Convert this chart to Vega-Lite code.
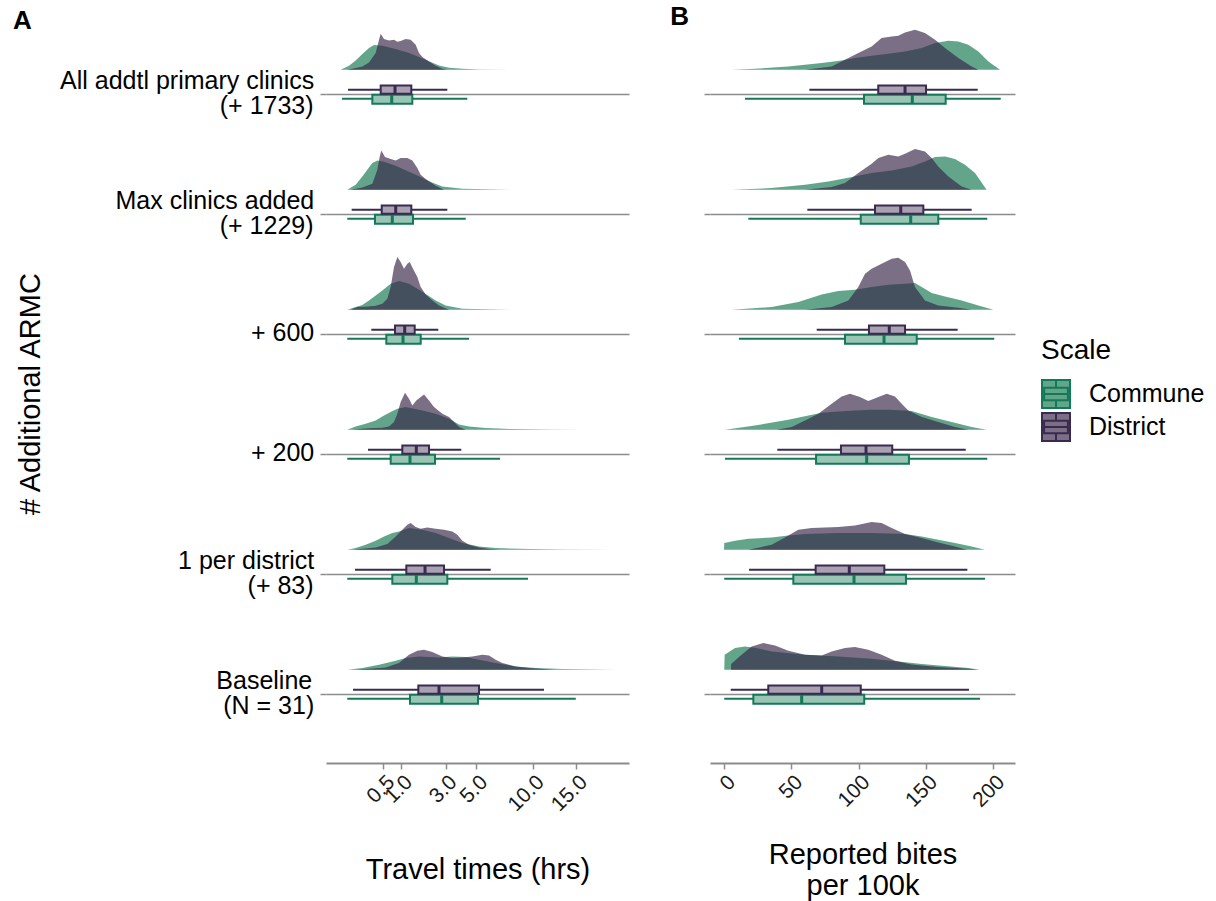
{
"$schema": "https://vega.github.io/schema/vega-lite/v6.json",
"padding": {"left": 13, "top": 3, "right": 5, "bottom": 5},
"datasets": {"all": [
{"k":"b","p":"A","r":"All addtl primary clinics (+ 1733)","s":"District","lo":0.017,"q1":0.444,"med":0.813,"q3":1.367,"hi":3.098},
{"k":"b","p":"A","r":"All addtl primary clinics (+ 1733)","s":"Commune","lo":0.001,"q1":0.28,"med":0.718,"q3":1.406,"hi":4.363},
{"k":"b","p":"A","r":"Max clinics added (+ 1229)","s":"District","lo":0.036,"q1":0.467,"med":0.834,"q3":1.367,"hi":3.098},
{"k":"b","p":"A","r":"Max clinics added (+ 1229)","s":"Commune","lo":0.014,"q1":0.328,"med":0.735,"q3":1.433,"hi":4.254},
{"k":"b","p":"A","r":"+ 600","s":"District","lo":0.263,"q1":0.813,"med":1.125,"q3":1.5,"hi":2.6},
{"k":"b","p":"A","r":"+ 600","s":"Commune","lo":0.014,"q1":0.576,"med":1.067,"q3":1.752,"hi":4.48},
{"k":"b","p":"A","r":"+ 200","s":"District","lo":0.21,"q1":1.043,"med":1.566,"q3":2.131,"hi":3.96},
{"k":"b","p":"A","r":"+ 200","s":"Commune","lo":0.014,"q1":0.69,"med":1.317,"q3":2.428,"hi":6.894},
{"k":"b","p":"A","r":"1 per district (+ 83)","s":"District","lo":0.06,"q1":1.182,"med":1.944,"q3":2.911,"hi":6.115},
{"k":"b","p":"A","r":"1 per district (+ 83)","s":"Commune","lo":0.014,"q1":0.735,"med":1.566,"q3":3.099,"hi":9.52},
{"k":"b","p":"A","r":"Baseline (N = 31)","s":"District","lo":0.045,"q1":1.649,"med":2.637,"q3":5.202,"hi":11.21},
{"k":"b","p":"A","r":"Baseline (N = 31)","s":"Commune","lo":0.014,"q1":1.317,"med":2.783,"q3":5.128,"hi":14.97},
{"k":"b","p":"B","r":"All addtl primary clinics (+ 1733)","s":"District","lo":63.4,"q1":114.6,"med":134.5,"q3":150.1,"hi":188.5},
{"k":"b","p":"B","r":"All addtl primary clinics (+ 1733)","s":"Commune","lo":15.6,"q1":104.0,"med":139.9,"q3":164.7,"hi":205.6},
{"k":"b","p":"B","r":"Max clinics added (+ 1229)","s":"District","lo":61.9,"q1":112.2,"med":131.3,"q3":148.1,"hi":184.0},
{"k":"b","p":"B","r":"Max clinics added (+ 1229)","s":"Commune","lo":18.1,"q1":101.6,"med":138.7,"q3":159.2,"hi":195.6},
{"k":"b","p":"B","r":"+ 600","s":"District","lo":68.9,"q1":107.7,"med":122.8,"q3":134.5,"hi":173.6},
{"k":"b","p":"B","r":"+ 600","s":"Commune","lo":11.1,"q1":89.9,"med":118.9,"q3":143.2,"hi":200.8},
{"k":"b","p":"B","r":"+ 200","s":"District","lo":39.6,"q1":86.9,"med":105.5,"q3":125.0,"hi":179.6},
{"k":"b","p":"B","r":"+ 200","s":"Commune","lo":0.7,"q1":68.4,"med":106.0,"q3":137.4,"hi":195.6},
{"k":"b","p":"B","r":"1 per district (+ 83)","s":"District","lo":18.6,"q1":68.1,"med":93.1,"q3":119.1,"hi":180.8},
{"k":"b","p":"B","r":"1 per district (+ 83)","s":"Commune","lo":0.2,"q1":51.5,"med":96.6,"q3":135.2,"hi":193.9},
{"k":"b","p":"B","r":"Baseline (N = 31)","s":"District","lo":5.0,"q1":32.9,"med":72.6,"q3":101.6,"hi":182.0},
{"k":"b","p":"B","r":"Baseline (N = 31)","s":"Commune","lo":0.2,"q1":21.8,"med":57.7,"q3":104.2,"hi":190.2},

{"k":"d","p":"A","r":"All addtl primary clinics (+ 1733)","s":"Commune","x":0.0001,"d":0},
{"k":"d","p":"A","r":"All addtl primary clinics (+ 1733)","s":"Commune","x":0.0214,"d":4},
{"k":"d","p":"A","r":"All addtl primary clinics (+ 1733)","s":"Commune","x":0.0654,"d":9.3},
{"k":"d","p":"A","r":"All addtl primary clinics (+ 1733)","s":"Commune","x":0.1333,"d":15.7},
{"k":"d","p":"A","r":"All addtl primary clinics (+ 1733)","s":"Commune","x":0.2252,"d":21.7},
{"k":"d","p":"A","r":"All addtl primary clinics (+ 1733)","s":"Commune","x":0.3099,"d":24.7},
{"k":"d","p":"A","r":"All addtl primary clinics (+ 1733)","s":"Commune","x":0.4808,"d":24},
{"k":"d","p":"A","r":"All addtl primary clinics (+ 1733)","s":"Commune","x":0.8327,"d":20.7},
{"k":"d","p":"A","r":"All addtl primary clinics (+ 1733)","s":"Commune","x":1.28,"d":16.7},
{"k":"d","p":"A","r":"All addtl primary clinics (+ 1733)","s":"Commune","x":1.6786,"d":12.7},
{"k":"d","p":"A","r":"All addtl primary clinics (+ 1733)","s":"Commune","x":2.131,"d":8.5},
{"k":"d","p":"A","r":"All addtl primary clinics (+ 1733)","s":"Commune","x":2.637,"d":4.3},
{"k":"d","p":"A","r":"All addtl primary clinics (+ 1733)","s":"Commune","x":3.198,"d":2},
{"k":"d","p":"A","r":"All addtl primary clinics (+ 1733)","s":"Commune","x":4.028,"d":1},
{"k":"d","p":"A","r":"All addtl primary clinics (+ 1733)","s":"Commune","x":5.202,"d":0.3},
{"k":"d","p":"A","r":"All addtl primary clinics (+ 1733)","s":"Commune","x":8.469,"d":0},
{"k":"d","p":"A","r":"All addtl primary clinics (+ 1733)","s":"District","x":0.0141,"d":0},
{"k":"d","p":"A","r":"All addtl primary clinics (+ 1733)","s":"District","x":0.0654,"d":1.7},
{"k":"d","p":"A","r":"All addtl primary clinics (+ 1733)","s":"District","x":0.1333,"d":3.3},
{"k":"d","p":"A","r":"All addtl primary clinics (+ 1733)","s":"District","x":0.2252,"d":7.3},
{"k":"d","p":"A","r":"All addtl primary clinics (+ 1733)","s":"District","x":0.3412,"d":16.7},
{"k":"d","p":"A","r":"All addtl primary clinics (+ 1733)","s":"District","x":0.408,"d":30},
{"k":"d","p":"A","r":"All addtl primary clinics (+ 1733)","s":"District","x":0.4438,"d":36},
{"k":"d","p":"A","r":"All addtl primary clinics (+ 1733)","s":"District","x":0.5197,"d":30.7},
{"k":"d","p":"A","r":"All addtl primary clinics (+ 1733)","s":"District","x":0.6448,"d":29.3},
{"k":"d","p":"A","r":"All addtl primary clinics (+ 1733)","s":"District","x":0.7834,"d":30},
{"k":"d","p":"A","r":"All addtl primary clinics (+ 1733)","s":"District","x":0.8832,"d":28},
{"k":"d","p":"A","r":"All addtl primary clinics (+ 1733)","s":"District","x":0.9892,"d":28.7},
{"k":"d","p":"A","r":"All addtl primary clinics (+ 1733)","s":"District","x":1.1593,"d":30.7},
{"k":"d","p":"A","r":"All addtl primary clinics (+ 1733)","s":"District","x":1.3428,"d":30},
{"k":"d","p":"A","r":"All addtl primary clinics (+ 1733)","s":"District","x":1.5398,"d":25},
{"k":"d","p":"A","r":"All addtl primary clinics (+ 1733)","s":"District","x":1.6786,"d":16.7},
{"k":"d","p":"A","r":"All addtl primary clinics (+ 1733)","s":"District","x":1.8233,"d":12.7},
{"k":"d","p":"A","r":"All addtl primary clinics (+ 1733)","s":"District","x":2.131,"d":8.3},
{"k":"d","p":"A","r":"All addtl primary clinics (+ 1733)","s":"District","x":2.4627,"d":4},
{"k":"d","p":"A","r":"All addtl primary clinics (+ 1733)","s":"District","x":2.818,"d":1},
{"k":"d","p":"A","r":"All addtl primary clinics (+ 1733)","s":"District","x":3.1003,"d":0},

{"k":"d","p":"A","r":"Max clinics added (+ 1229)","s":"Commune","x":0.0141,"d":0},
{"k":"d","p":"A","r":"Max clinics added (+ 1229)","s":"Commune","x":0.0654,"d":5},
{"k":"d","p":"A","r":"Max clinics added (+ 1229)","s":"Commune","x":0.1333,"d":13.3},
{"k":"d","p":"A","r":"Max clinics added (+ 1229)","s":"Commune","x":0.1999,"d":20},
{"k":"d","p":"A","r":"Max clinics added (+ 1229)","s":"Commune","x":0.2801,"d":26.7},
{"k":"d","p":"A","r":"Max clinics added (+ 1229)","s":"Commune","x":0.3737,"d":29.3},
{"k":"d","p":"A","r":"Max clinics added (+ 1229)","s":"Commune","x":0.5197,"d":28},
{"k":"d","p":"A","r":"Max clinics added (+ 1229)","s":"Commune","x":0.8327,"d":24},
{"k":"d","p":"A","r":"Max clinics added (+ 1229)","s":"Commune","x":1.28,"d":18},
{"k":"d","p":"A","r":"Max clinics added (+ 1229)","s":"Commune","x":1.6786,"d":13.5},
{"k":"d","p":"A","r":"Max clinics added (+ 1229)","s":"Commune","x":2.131,"d":8.5},
{"k":"d","p":"A","r":"Max clinics added (+ 1229)","s":"Commune","x":2.818,"d":3.3},
{"k":"d","p":"A","r":"Max clinics added (+ 1229)","s":"Commune","x":4.028,"d":1},
{"k":"d","p":"A","r":"Max clinics added (+ 1229)","s":"Commune","x":8.469,"d":0},
{"k":"d","p":"A","r":"Max clinics added (+ 1229)","s":"District","x":0.0301,"d":0},
{"k":"d","p":"A","r":"Max clinics added (+ 1229)","s":"District","x":0.1333,"d":2.3},
{"k":"d","p":"A","r":"Max clinics added (+ 1229)","s":"District","x":0.2801,"d":6},
{"k":"d","p":"A","r":"Max clinics added (+ 1229)","s":"District","x":0.3737,"d":20},
{"k":"d","p":"A","r":"Max clinics added (+ 1229)","s":"District","x":0.4222,"d":33},
{"k":"d","p":"A","r":"Max clinics added (+ 1229)","s":"District","x":0.4584,"d":39.3},
{"k":"d","p":"A","r":"Max clinics added (+ 1229)","s":"District","x":0.5436,"d":32.7},
{"k":"d","p":"A","r":"Max clinics added (+ 1229)","s":"District","x":0.6895,"d":30.7},
{"k":"d","p":"A","r":"Max clinics added (+ 1229)","s":"District","x":0.8327,"d":29.3},
{"k":"d","p":"A","r":"Max clinics added (+ 1229)","s":"District","x":0.9892,"d":31.7},
{"k":"d","p":"A","r":"Max clinics added (+ 1229)","s":"District","x":1.2188,"d":31.7},
{"k":"d","p":"A","r":"Max clinics added (+ 1229)","s":"District","x":1.4068,"d":29.3},
{"k":"d","p":"A","r":"Max clinics added (+ 1229)","s":"District","x":1.6082,"d":21.7},
{"k":"d","p":"A","r":"Max clinics added (+ 1229)","s":"District","x":1.7503,"d":15},
{"k":"d","p":"A","r":"Max clinics added (+ 1229)","s":"District","x":1.9743,"d":10.7},
{"k":"d","p":"A","r":"Max clinics added (+ 1229)","s":"District","x":2.4627,"d":4},
{"k":"d","p":"A","r":"Max clinics added (+ 1229)","s":"District","x":2.9107,"d":0},

{"k":"d","p":"A","r":"+ 600","s":"Commune","x":0.0141,"d":0},
{"k":"d","p":"A","r":"+ 600","s":"Commune","x":0.0654,"d":2.7},
{"k":"d","p":"A","r":"+ 600","s":"Commune","x":0.1333,"d":4.7},
{"k":"d","p":"A","r":"+ 600","s":"Commune","x":0.2252,"d":9.3},
{"k":"d","p":"A","r":"+ 600","s":"Commune","x":0.3412,"d":14.3},
{"k":"d","p":"A","r":"+ 600","s":"Commune","x":0.4808,"d":19.3},
{"k":"d","p":"A","r":"+ 600","s":"Commune","x":0.6895,"d":26},
{"k":"d","p":"A","r":"+ 600","s":"Commune","x":0.9355,"d":28.7},
{"k":"d","p":"A","r":"+ 600","s":"Commune","x":1.28,"d":26},
{"k":"d","p":"A","r":"+ 600","s":"Commune","x":1.6786,"d":20},
{"k":"d","p":"A","r":"+ 600","s":"Commune","x":2.0516,"d":14.7},
{"k":"d","p":"A","r":"+ 600","s":"Commune","x":2.4627,"d":9.3},
{"k":"d","p":"A","r":"+ 600","s":"Commune","x":3.005,"d":4.3},
{"k":"d","p":"A","r":"+ 600","s":"Commune","x":4.028,"d":1},
{"k":"d","p":"A","r":"+ 600","s":"Commune","x":8.469,"d":0},
{"k":"d","p":"A","r":"+ 600","s":"District","x":0.0301,"d":0},
{"k":"d","p":"A","r":"+ 600","s":"District","x":0.08,"d":2.7},
{"k":"d","p":"A","r":"+ 600","s":"District","x":0.1763,"d":3},
{"k":"d","p":"A","r":"+ 600","s":"District","x":0.3412,"d":4},
{"k":"d","p":"A","r":"+ 600","s":"District","x":0.4808,"d":6},
{"k":"d","p":"A","r":"+ 600","s":"District","x":0.6015,"d":11},
{"k":"d","p":"A","r":"+ 600","s":"District","x":0.6895,"d":22.7},
{"k":"d","p":"A","r":"+ 600","s":"District","x":0.7834,"d":42.7},
{"k":"d","p":"A","r":"+ 600","s":"District","x":0.8832,"d":52.7},
{"k":"d","p":"A","r":"+ 600","s":"District","x":0.9892,"d":47.7},
{"k":"d","p":"A","r":"+ 600","s":"District","x":1.101,"d":41},
{"k":"d","p":"A","r":"+ 600","s":"District","x":1.2188,"d":46},
{"k":"d","p":"A","r":"+ 600","s":"District","x":1.305,"d":47.7},
{"k":"d","p":"A","r":"+ 600","s":"District","x":1.4329,"d":41},
{"k":"d","p":"A","r":"+ 600","s":"District","x":1.6082,"d":32.7},
{"k":"d","p":"A","r":"+ 600","s":"District","x":1.7503,"d":22.7},
{"k":"d","p":"A","r":"+ 600","s":"District","x":1.9743,"d":15.3},
{"k":"d","p":"A","r":"+ 600","s":"District","x":2.2934,"d":9.3},
{"k":"d","p":"A","r":"+ 600","s":"District","x":2.637,"d":4.3},
{"k":"d","p":"A","r":"+ 600","s":"District","x":3.198,"d":0},

{"k":"d","p":"A","r":"+ 200","s":"Commune","x":0.0141,"d":0},
{"k":"d","p":"A","r":"+ 200","s":"Commune","x":0.0654,"d":3.3},
{"k":"d","p":"A","r":"+ 200","s":"Commune","x":0.1763,"d":6},
{"k":"d","p":"A","r":"+ 200","s":"Commune","x":0.3412,"d":9.3},
{"k":"d","p":"A","r":"+ 200","s":"Commune","x":0.5197,"d":14.3},
{"k":"d","p":"A","r":"+ 200","s":"Commune","x":0.6895,"d":17.7},
{"k":"d","p":"A","r":"+ 200","s":"Commune","x":0.8832,"d":21},
{"k":"d","p":"A","r":"+ 200","s":"Commune","x":1.1593,"d":22.7},
{"k":"d","p":"A","r":"+ 200","s":"Commune","x":1.8233,"d":19.3},
{"k":"d","p":"A","r":"+ 200","s":"Commune","x":2.4627,"d":16},
{"k":"d","p":"A","r":"+ 200","s":"Commune","x":3.198,"d":11},
{"k":"d","p":"A","r":"+ 200","s":"Commune","x":3.8118,"d":5.3},
{"k":"d","p":"A","r":"+ 200","s":"Commune","x":4.48,"d":3.3},
{"k":"d","p":"A","r":"+ 200","s":"Commune","x":5.7135,"d":1.7},
{"k":"d","p":"A","r":"+ 200","s":"Commune","x":7.998,"d":0.7},
{"k":"d","p":"A","r":"+ 200","s":"Commune","x":11.394,"d":0.3},
{"k":"d","p":"A","r":"+ 200","s":"Commune","x":15.605,"d":0},
{"k":"d","p":"A","r":"+ 200","s":"District","x":0.0403,"d":0},
{"k":"d","p":"A","r":"+ 200","s":"District","x":0.1333,"d":1},
{"k":"d","p":"A","r":"+ 200","s":"District","x":0.2801,"d":1.7},
{"k":"d","p":"A","r":"+ 200","s":"District","x":0.4808,"d":2},
{"k":"d","p":"A","r":"+ 200","s":"District","x":0.6448,"d":3.3},
{"k":"d","p":"A","r":"+ 200","s":"District","x":0.7834,"d":7.7},
{"k":"d","p":"A","r":"+ 200","s":"District","x":0.8832,"d":16},
{"k":"d","p":"A","r":"+ 200","s":"District","x":0.9892,"d":27.7},
{"k":"d","p":"A","r":"+ 200","s":"District","x":1.1357,"d":37},
{"k":"d","p":"A","r":"+ 200","s":"District","x":1.28,"d":31},
{"k":"d","p":"A","r":"+ 200","s":"District","x":1.4068,"d":24.3},
{"k":"d","p":"A","r":"+ 200","s":"District","x":1.5667,"d":29.3},
{"k":"d","p":"A","r":"+ 200","s":"District","x":1.898,"d":35.3},
{"k":"d","p":"A","r":"+ 200","s":"District","x":2.131,"d":29.3},
{"k":"d","p":"A","r":"+ 200","s":"District","x":2.3774,"d":22.7},
{"k":"d","p":"A","r":"+ 200","s":"District","x":2.818,"d":16},
{"k":"d","p":"A","r":"+ 200","s":"District","x":3.198,"d":12.7},
{"k":"d","p":"A","r":"+ 200","s":"District","x":3.498,"d":7.7},
{"k":"d","p":"A","r":"+ 200","s":"District","x":3.8118,"d":2.7},
{"k":"d","p":"A","r":"+ 200","s":"District","x":4.2514,"d":0},

{"k":"d","p":"A","r":"1 per district (+ 83)","s":"Commune","x":0.0141,"d":0},
{"k":"d","p":"A","r":"1 per district (+ 83)","s":"Commune","x":0.0654,"d":1.7},
{"k":"d","p":"A","r":"1 per district (+ 83)","s":"Commune","x":0.1763,"d":5},
{"k":"d","p":"A","r":"1 per district (+ 83)","s":"Commune","x":0.3412,"d":9},
{"k":"d","p":"A","r":"1 per district (+ 83)","s":"Commune","x":0.5197,"d":13.3},
{"k":"d","p":"A","r":"1 per district (+ 83)","s":"Commune","x":0.7355,"d":16.7},
{"k":"d","p":"A","r":"1 per district (+ 83)","s":"Commune","x":0.9355,"d":18.3},
{"k":"d","p":"A","r":"1 per district (+ 83)","s":"Commune","x":1.28,"d":21.7},
{"k":"d","p":"A","r":"1 per district (+ 83)","s":"Commune","x":1.8233,"d":20},
{"k":"d","p":"A","r":"1 per district (+ 83)","s":"Commune","x":2.4627,"d":16.7},
{"k":"d","p":"A","r":"1 per district (+ 83)","s":"Commune","x":3.198,"d":11.7},
{"k":"d","p":"A","r":"1 per district (+ 83)","s":"Commune","x":4.028,"d":6.7},
{"k":"d","p":"A","r":"1 per district (+ 83)","s":"Commune","x":5.202,"d":3.3},
{"k":"d","p":"A","r":"1 per district (+ 83)","s":"Commune","x":6.5255,"d":1.7},
{"k":"d","p":"A","r":"1 per district (+ 83)","s":"Commune","x":9.6212,"d":0.7},
{"k":"d","p":"A","r":"1 per district (+ 83)","s":"Commune","x":13.315,"d":0.3},
{"k":"d","p":"A","r":"1 per district (+ 83)","s":"Commune","x":19.98,"d":0},
{"k":"d","p":"A","r":"1 per district (+ 83)","s":"District","x":0.0403,"d":0},
{"k":"d","p":"A","r":"1 per district (+ 83)","s":"District","x":0.1333,"d":1},
{"k":"d","p":"A","r":"1 per district (+ 83)","s":"District","x":0.3412,"d":2.3},
{"k":"d","p":"A","r":"1 per district (+ 83)","s":"District","x":0.6015,"d":5.7},
{"k":"d","p":"A","r":"1 per district (+ 83)","s":"District","x":0.8327,"d":13.3},
{"k":"d","p":"A","r":"1 per district (+ 83)","s":"District","x":1.0441,"d":20},
{"k":"d","p":"A","r":"1 per district (+ 83)","s":"District","x":1.2188,"d":25},
{"k":"d","p":"A","r":"1 per district (+ 83)","s":"District","x":1.3428,"d":26.7},
{"k":"d","p":"A","r":"1 per district (+ 83)","s":"District","x":1.5398,"d":22.7},
{"k":"d","p":"A","r":"1 per district (+ 83)","s":"District","x":1.7503,"d":21},
{"k":"d","p":"A","r":"1 per district (+ 83)","s":"District","x":2.0516,"d":22.3},
{"k":"d","p":"A","r":"1 per district (+ 83)","s":"District","x":2.4627,"d":21},
{"k":"d","p":"A","r":"1 per district (+ 83)","s":"District","x":2.9107,"d":20},
{"k":"d","p":"A","r":"1 per district (+ 83)","s":"District","x":3.396,"d":18.3},
{"k":"d","p":"A","r":"1 per district (+ 83)","s":"District","x":3.7056,"d":15},
{"k":"d","p":"A","r":"1 per district (+ 83)","s":"District","x":4.028,"d":9},
{"k":"d","p":"A","r":"1 per district (+ 83)","s":"District","x":4.48,"d":5},
{"k":"d","p":"A","r":"1 per district (+ 83)","s":"District","x":5.202,"d":2.3},
{"k":"d","p":"A","r":"1 per district (+ 83)","s":"District","x":5.978,"d":0.7},
{"k":"d","p":"A","r":"1 per district (+ 83)","s":"District","x":6.808,"d":0},

{"k":"d","p":"A","r":"Baseline (N = 31)","s":"Commune","x":0.0141,"d":0},
{"k":"d","p":"A","r":"Baseline (N = 31)","s":"Commune","x":0.1333,"d":1.7},
{"k":"d","p":"A","r":"Baseline (N = 31)","s":"Commune","x":0.408,"d":5},
{"k":"d","p":"A","r":"Baseline (N = 31)","s":"Commune","x":0.8327,"d":9},
{"k":"d","p":"A","r":"Baseline (N = 31)","s":"Commune","x":1.1593,"d":11.7},
{"k":"d","p":"A","r":"Baseline (N = 31)","s":"Commune","x":1.6786,"d":13.3},
{"k":"d","p":"A","r":"Baseline (N = 31)","s":"Commune","x":2.637,"d":12.3},
{"k":"d","p":"A","r":"Baseline (N = 31)","s":"Commune","x":3.396,"d":13.3},
{"k":"d","p":"A","r":"Baseline (N = 31)","s":"Commune","x":4.2514,"d":12.7},
{"k":"d","p":"A","r":"Baseline (N = 31)","s":"Commune","x":5.202,"d":10},
{"k":"d","p":"A","r":"Baseline (N = 31)","s":"Commune","x":6.5255,"d":6.7},
{"k":"d","p":"A","r":"Baseline (N = 31)","s":"Commune","x":8.311,"d":3.3},
{"k":"d","p":"A","r":"Baseline (N = 31)","s":"Commune","x":10.313,"d":1.7},
{"k":"d","p":"A","r":"Baseline (N = 31)","s":"Commune","x":13.315,"d":0.7},
{"k":"d","p":"A","r":"Baseline (N = 31)","s":"Commune","x":20.475,"d":0},
{"k":"d","p":"A","r":"Baseline (N = 31)","s":"District","x":0.0521,"d":0},
{"k":"d","p":"A","r":"Baseline (N = 31)","s":"District","x":0.2252,"d":1},
{"k":"d","p":"A","r":"Baseline (N = 31)","s":"District","x":0.56,"d":2.3},
{"k":"d","p":"A","r":"Baseline (N = 31)","s":"District","x":0.9355,"d":6.7},
{"k":"d","p":"A","r":"Baseline (N = 31)","s":"District","x":1.28,"d":15},
{"k":"d","p":"A","r":"Baseline (N = 31)","s":"District","x":1.6082,"d":19},
{"k":"d","p":"A","r":"Baseline (N = 31)","s":"District","x":1.898,"d":20},
{"k":"d","p":"A","r":"Baseline (N = 31)","s":"District","x":2.2934,"d":17.7},
{"k":"d","p":"A","r":"Baseline (N = 31)","s":"District","x":2.818,"d":13.3},
{"k":"d","p":"A","r":"Baseline (N = 31)","s":"District","x":3.396,"d":11.7},
{"k":"d","p":"A","r":"Baseline (N = 31)","s":"District","x":4.028,"d":12.3},
{"k":"d","p":"A","r":"Baseline (N = 31)","s":"District","x":4.7145,"d":13.3},
{"k":"d","p":"A","r":"Baseline (N = 31)","s":"District","x":5.4545,"d":15},
{"k":"d","p":"A","r":"Baseline (N = 31)","s":"District","x":5.978,"d":14.3},
{"k":"d","p":"A","r":"Baseline (N = 31)","s":"District","x":6.5255,"d":10},
{"k":"d","p":"A","r":"Baseline (N = 31)","s":"District","x":7.096,"d":6.7},
{"k":"d","p":"A","r":"Baseline (N = 31)","s":"District","x":8.311,"d":3.3},
{"k":"d","p":"A","r":"Baseline (N = 31)","s":"District","x":9.6212,"d":1.7},
{"k":"d","p":"A","r":"Baseline (N = 31)","s":"District","x":11.027,"d":0.7},
{"k":"d","p":"A","r":"Baseline (N = 31)","s":"District","x":12.53,"d":0},

{"k":"d","p":"B","r":"All addtl primary clinics (+ 1733)","s":"Commune","x":5.7,"d":0},
{"k":"d","p":"B","r":"All addtl primary clinics (+ 1733)","s":"Commune","x":23.0,"d":1},
{"k":"d","p":"B","r":"All addtl primary clinics (+ 1733)","s":"Commune","x":47.8,"d":3.3},
{"k":"d","p":"B","r":"All addtl primary clinics (+ 1733)","s":"Commune","x":72.6,"d":6.7},
{"k":"d","p":"B","r":"All addtl primary clinics (+ 1733)","s":"Commune","x":87.4,"d":9.3},
{"k":"d","p":"B","r":"All addtl primary clinics (+ 1733)","s":"Commune","x":97.3,"d":11.7},
{"k":"d","p":"B","r":"All addtl primary clinics (+ 1733)","s":"Commune","x":109.7,"d":14},
{"k":"d","p":"B","r":"All addtl primary clinics (+ 1733)","s":"Commune","x":122.1,"d":16},
{"k":"d","p":"B","r":"All addtl primary clinics (+ 1733)","s":"Commune","x":134.5,"d":18.3},
{"k":"d","p":"B","r":"All addtl primary clinics (+ 1733)","s":"Commune","x":146.9,"d":21.7},
{"k":"d","p":"B","r":"All addtl primary clinics (+ 1733)","s":"Commune","x":156.8,"d":26.7},
{"k":"d","p":"B","r":"All addtl primary clinics (+ 1733)","s":"Commune","x":166.7,"d":29},
{"k":"d","p":"B","r":"All addtl primary clinics (+ 1733)","s":"Commune","x":174.1,"d":28.3},
{"k":"d","p":"B","r":"All addtl primary clinics (+ 1733)","s":"Commune","x":181.5,"d":25},
{"k":"d","p":"B","r":"All addtl primary clinics (+ 1733)","s":"Commune","x":189.0,"d":18.3},
{"k":"d","p":"B","r":"All addtl primary clinics (+ 1733)","s":"Commune","x":196.4,"d":8.3},
{"k":"d","p":"B","r":"All addtl primary clinics (+ 1733)","s":"Commune","x":205.1,"d":0},
{"k":"d","p":"B","r":"All addtl primary clinics (+ 1733)","s":"District","x":60.2,"d":0},
{"k":"d","p":"B","r":"All addtl primary clinics (+ 1733)","s":"District","x":80.0,"d":3.3},
{"k":"d","p":"B","r":"All addtl primary clinics (+ 1733)","s":"District","x":89.9,"d":10},
{"k":"d","p":"B","r":"All addtl primary clinics (+ 1733)","s":"District","x":99.8,"d":16.7},
{"k":"d","p":"B","r":"All addtl primary clinics (+ 1733)","s":"District","x":109.7,"d":23.3},
{"k":"d","p":"B","r":"All addtl primary clinics (+ 1733)","s":"District","x":117.1,"d":31.7},
{"k":"d","p":"B","r":"All addtl primary clinics (+ 1733)","s":"District","x":124.6,"d":33.3},
{"k":"d","p":"B","r":"All addtl primary clinics (+ 1733)","s":"District","x":129.5,"d":34},
{"k":"d","p":"B","r":"All addtl primary clinics (+ 1733)","s":"District","x":134.5,"d":37.3},
{"k":"d","p":"B","r":"All addtl primary clinics (+ 1733)","s":"District","x":141.9,"d":40},
{"k":"d","p":"B","r":"All addtl primary clinics (+ 1733)","s":"District","x":149.3,"d":36.7},
{"k":"d","p":"B","r":"All addtl primary clinics (+ 1733)","s":"District","x":156.8,"d":30},
{"k":"d","p":"B","r":"All addtl primary clinics (+ 1733)","s":"District","x":164.2,"d":21.7},
{"k":"d","p":"B","r":"All addtl primary clinics (+ 1733)","s":"District","x":174.1,"d":11.7},
{"k":"d","p":"B","r":"All addtl primary clinics (+ 1733)","s":"District","x":184.0,"d":3.3},
{"k":"d","p":"B","r":"All addtl primary clinics (+ 1733)","s":"District","x":189.0,"d":0},

{"k":"d","p":"B","r":"Max clinics added (+ 1229)","s":"Commune","x":5.7,"d":0},
{"k":"d","p":"B","r":"Max clinics added (+ 1229)","s":"Commune","x":35.4,"d":1.7},
{"k":"d","p":"B","r":"Max clinics added (+ 1229)","s":"Commune","x":60.2,"d":5},
{"k":"d","p":"B","r":"Max clinics added (+ 1229)","s":"Commune","x":77.5,"d":8.3},
{"k":"d","p":"B","r":"Max clinics added (+ 1229)","s":"Commune","x":87.4,"d":10.7},
{"k":"d","p":"B","r":"Max clinics added (+ 1229)","s":"Commune","x":94.9,"d":12.7},
{"k":"d","p":"B","r":"Max clinics added (+ 1229)","s":"Commune","x":109.7,"d":16.7},
{"k":"d","p":"B","r":"Max clinics added (+ 1229)","s":"Commune","x":124.6,"d":19.3},
{"k":"d","p":"B","r":"Max clinics added (+ 1229)","s":"Commune","x":139.4,"d":23.3},
{"k":"d","p":"B","r":"Max clinics added (+ 1229)","s":"Commune","x":149.3,"d":28.3},
{"k":"d","p":"B","r":"Max clinics added (+ 1229)","s":"Commune","x":156.8,"d":32.7},
{"k":"d","p":"B","r":"Max clinics added (+ 1229)","s":"Commune","x":164.2,"d":33.3},
{"k":"d","p":"B","r":"Max clinics added (+ 1229)","s":"Commune","x":171.6,"d":30.7},
{"k":"d","p":"B","r":"Max clinics added (+ 1229)","s":"Commune","x":179.0,"d":25},
{"k":"d","p":"B","r":"Max clinics added (+ 1229)","s":"Commune","x":186.5,"d":16.7},
{"k":"d","p":"B","r":"Max clinics added (+ 1229)","s":"Commune","x":195.1,"d":0},
{"k":"d","p":"B","r":"Max clinics added (+ 1229)","s":"District","x":60.2,"d":0},
{"k":"d","p":"B","r":"Max clinics added (+ 1229)","s":"District","x":80.0,"d":2.7},
{"k":"d","p":"B","r":"Max clinics added (+ 1229)","s":"District","x":89.9,"d":6.7},
{"k":"d","p":"B","r":"Max clinics added (+ 1229)","s":"District","x":99.8,"d":16.7},
{"k":"d","p":"B","r":"Max clinics added (+ 1229)","s":"District","x":109.7,"d":26},
{"k":"d","p":"B","r":"Max clinics added (+ 1229)","s":"District","x":114.7,"d":31.7},
{"k":"d","p":"B","r":"Max clinics added (+ 1229)","s":"District","x":122.1,"d":35},
{"k":"d","p":"B","r":"Max clinics added (+ 1229)","s":"District","x":129.5,"d":33.3},
{"k":"d","p":"B","r":"Max clinics added (+ 1229)","s":"District","x":134.5,"d":36},
{"k":"d","p":"B","r":"Max clinics added (+ 1229)","s":"District","x":141.9,"d":40.7},
{"k":"d","p":"B","r":"Max clinics added (+ 1229)","s":"District","x":149.3,"d":38.3},
{"k":"d","p":"B","r":"Max clinics added (+ 1229)","s":"District","x":154.3,"d":31.7},
{"k":"d","p":"B","r":"Max clinics added (+ 1229)","s":"District","x":159.2,"d":23.3},
{"k":"d","p":"B","r":"Max clinics added (+ 1229)","s":"District","x":166.7,"d":13.3},
{"k":"d","p":"B","r":"Max clinics added (+ 1229)","s":"District","x":176.6,"d":3.3},
{"k":"d","p":"B","r":"Max clinics added (+ 1229)","s":"District","x":184.0,"d":0},

{"k":"d","p":"B","r":"+ 600","s":"Commune","x":5.7,"d":0},
{"k":"d","p":"B","r":"+ 600","s":"Commune","x":35.4,"d":2.7},
{"k":"d","p":"B","r":"+ 600","s":"Commune","x":55.2,"d":7.7},
{"k":"d","p":"B","r":"+ 600","s":"Commune","x":72.6,"d":15.3},
{"k":"d","p":"B","r":"+ 600","s":"Commune","x":84.9,"d":18.7},
{"k":"d","p":"B","r":"+ 600","s":"Commune","x":97.3,"d":20},
{"k":"d","p":"B","r":"+ 600","s":"Commune","x":109.7,"d":22.7},
{"k":"d","p":"B","r":"+ 600","s":"Commune","x":122.1,"d":25},
{"k":"d","p":"B","r":"+ 600","s":"Commune","x":134.5,"d":26},
{"k":"d","p":"B","r":"+ 600","s":"Commune","x":141.9,"d":26.7},
{"k":"d","p":"B","r":"+ 600","s":"Commune","x":146.9,"d":22.7},
{"k":"d","p":"B","r":"+ 600","s":"Commune","x":154.3,"d":16.7},
{"k":"d","p":"B","r":"+ 600","s":"Commune","x":164.2,"d":13.3},
{"k":"d","p":"B","r":"+ 600","s":"Commune","x":176.6,"d":9.3},
{"k":"d","p":"B","r":"+ 600","s":"Commune","x":189.0,"d":4.3},
{"k":"d","p":"B","r":"+ 600","s":"Commune","x":200.1,"d":0},
{"k":"d","p":"B","r":"+ 600","s":"District","x":60.2,"d":0},
{"k":"d","p":"B","r":"+ 600","s":"District","x":80.0,"d":2.7},
{"k":"d","p":"B","r":"+ 600","s":"District","x":92.4,"d":9.3},
{"k":"d","p":"B","r":"+ 600","s":"District","x":99.8,"d":22.7},
{"k":"d","p":"B","r":"+ 600","s":"District","x":104.8,"d":36},
{"k":"d","p":"B","r":"+ 600","s":"District","x":109.7,"d":41},
{"k":"d","p":"B","r":"+ 600","s":"District","x":117.1,"d":46},
{"k":"d","p":"B","r":"+ 600","s":"District","x":124.6,"d":51},
{"k":"d","p":"B","r":"+ 600","s":"District","x":129.5,"d":52},
{"k":"d","p":"B","r":"+ 600","s":"District","x":134.5,"d":47.7},
{"k":"d","p":"B","r":"+ 600","s":"District","x":138.2,"d":39.3},
{"k":"d","p":"B","r":"+ 600","s":"District","x":141.9,"d":22.7},
{"k":"d","p":"B","r":"+ 600","s":"District","x":149.3,"d":9.3},
{"k":"d","p":"B","r":"+ 600","s":"District","x":159.2,"d":4.3},
{"k":"d","p":"B","r":"+ 600","s":"District","x":174.1,"d":2},
{"k":"d","p":"B","r":"+ 600","s":"District","x":184.0,"d":0},

{"k":"d","p":"B","r":"+ 200","s":"Commune","x":0.7,"d":0},
{"k":"d","p":"B","r":"+ 200","s":"Commune","x":23.0,"d":4.3},
{"k":"d","p":"B","r":"+ 200","s":"Commune","x":47.8,"d":10},
{"k":"d","p":"B","r":"+ 200","s":"Commune","x":62.7,"d":14.3},
{"k":"d","p":"B","r":"+ 200","s":"Commune","x":72.6,"d":17},
{"k":"d","p":"B","r":"+ 200","s":"Commune","x":84.9,"d":18.3},
{"k":"d","p":"B","r":"+ 200","s":"Commune","x":97.3,"d":19.3},
{"k":"d","p":"B","r":"+ 200","s":"Commune","x":109.7,"d":20},
{"k":"d","p":"B","r":"+ 200","s":"Commune","x":122.1,"d":20},
{"k":"d","p":"B","r":"+ 200","s":"Commune","x":134.5,"d":19.3},
{"k":"d","p":"B","r":"+ 200","s":"Commune","x":139.4,"d":18.7},
{"k":"d","p":"B","r":"+ 200","s":"Commune","x":154.3,"d":12.7},
{"k":"d","p":"B","r":"+ 200","s":"Commune","x":169.1,"d":7.7},
{"k":"d","p":"B","r":"+ 200","s":"Commune","x":184.0,"d":2.7},
{"k":"d","p":"B","r":"+ 200","s":"Commune","x":195.1,"d":0},
{"k":"d","p":"B","r":"+ 200","s":"District","x":39.1,"d":0},
{"k":"d","p":"B","r":"+ 200","s":"District","x":50.3,"d":2.7},
{"k":"d","p":"B","r":"+ 200","s":"District","x":60.2,"d":9.3},
{"k":"d","p":"B","r":"+ 200","s":"District","x":70.1,"d":16},
{"k":"d","p":"B","r":"+ 200","s":"District","x":80.0,"d":26},
{"k":"d","p":"B","r":"+ 200","s":"District","x":87.4,"d":33.3},
{"k":"d","p":"B","r":"+ 200","s":"District","x":93.6,"d":36},
{"k":"d","p":"B","r":"+ 200","s":"District","x":101.0,"d":32.7},
{"k":"d","p":"B","r":"+ 200","s":"District","x":107.2,"d":28.7},
{"k":"d","p":"B","r":"+ 200","s":"District","x":114.7,"d":32.7},
{"k":"d","p":"B","r":"+ 200","s":"District","x":120.9,"d":36},
{"k":"d","p":"B","r":"+ 200","s":"District","x":127.0,"d":33.3},
{"k":"d","p":"B","r":"+ 200","s":"District","x":132.0,"d":26},
{"k":"d","p":"B","r":"+ 200","s":"District","x":136.9,"d":19.3},
{"k":"d","p":"B","r":"+ 200","s":"District","x":146.9,"d":12.7},
{"k":"d","p":"B","r":"+ 200","s":"District","x":159.2,"d":7.7},
{"k":"d","p":"B","r":"+ 200","s":"District","x":171.6,"d":2.7},
{"k":"d","p":"B","r":"+ 200","s":"District","x":181.5,"d":0},

{"k":"d","p":"B","r":"1 per district (+ 83)","s":"Commune","x":0,"d":0},
{"k":"d","p":"B","r":"1 per district (+ 83)","s":"Commune","x":0.2,"d":6.7},
{"k":"d","p":"B","r":"1 per district (+ 83)","s":"Commune","x":8.2,"d":9},
{"k":"d","p":"B","r":"1 per district (+ 83)","s":"Commune","x":18.1,"d":11},
{"k":"d","p":"B","r":"1 per district (+ 83)","s":"Commune","x":35.4,"d":12.3},
{"k":"d","p":"B","r":"1 per district (+ 83)","s":"Commune","x":47.8,"d":14.3},
{"k":"d","p":"B","r":"1 per district (+ 83)","s":"Commune","x":60.2,"d":15.7},
{"k":"d","p":"B","r":"1 per district (+ 83)","s":"Commune","x":84.9,"d":16.7},
{"k":"d","p":"B","r":"1 per district (+ 83)","s":"Commune","x":109.7,"d":16.7},
{"k":"d","p":"B","r":"1 per district (+ 83)","s":"Commune","x":134.5,"d":15.7},
{"k":"d","p":"B","r":"1 per district (+ 83)","s":"Commune","x":146.9,"d":13.3},
{"k":"d","p":"B","r":"1 per district (+ 83)","s":"Commune","x":159.2,"d":10},
{"k":"d","p":"B","r":"1 per district (+ 83)","s":"Commune","x":171.6,"d":6.7},
{"k":"d","p":"B","r":"1 per district (+ 83)","s":"Commune","x":184.0,"d":3.3},
{"k":"d","p":"B","r":"1 per district (+ 83)","s":"Commune","x":193.9,"d":0},
{"k":"d","p":"B","r":"1 per district (+ 83)","s":"District","x":18.1,"d":0},
{"k":"d","p":"B","r":"1 per district (+ 83)","s":"District","x":35.4,"d":5},
{"k":"d","p":"B","r":"1 per district (+ 83)","s":"District","x":45.3,"d":12.3},
{"k":"d","p":"B","r":"1 per district (+ 83)","s":"District","x":55.2,"d":20},
{"k":"d","p":"B","r":"1 per district (+ 83)","s":"District","x":65.1,"d":21.7},
{"k":"d","p":"B","r":"1 per district (+ 83)","s":"District","x":84.9,"d":22.7},
{"k":"d","p":"B","r":"1 per district (+ 83)","s":"District","x":97.3,"d":24.3},
{"k":"d","p":"B","r":"1 per district (+ 83)","s":"District","x":109.7,"d":27.7},
{"k":"d","p":"B","r":"1 per district (+ 83)","s":"District","x":117.1,"d":26.7},
{"k":"d","p":"B","r":"1 per district (+ 83)","s":"District","x":124.6,"d":21.7},
{"k":"d","p":"B","r":"1 per district (+ 83)","s":"District","x":134.5,"d":15.7},
{"k":"d","p":"B","r":"1 per district (+ 83)","s":"District","x":146.9,"d":11.7},
{"k":"d","p":"B","r":"1 per district (+ 83)","s":"District","x":159.2,"d":7.3},
{"k":"d","p":"B","r":"1 per district (+ 83)","s":"District","x":171.6,"d":3.3},
{"k":"d","p":"B","r":"1 per district (+ 83)","s":"District","x":180.3,"d":0},

{"k":"d","p":"B","r":"Baseline (N = 31)","s":"Commune","x":0.2,"d":0},
{"k":"d","p":"B","r":"Baseline (N = 31)","s":"Commune","x":0.5,"d":15},
{"k":"d","p":"B","r":"Baseline (N = 31)","s":"Commune","x":8.2,"d":21.7},
{"k":"d","p":"B","r":"Baseline (N = 31)","s":"Commune","x":15.6,"d":23.3},
{"k":"d","p":"B","r":"Baseline (N = 31)","s":"Commune","x":23.0,"d":22},
{"k":"d","p":"B","r":"Baseline (N = 31)","s":"Commune","x":35.4,"d":18.3},
{"k":"d","p":"B","r":"Baseline (N = 31)","s":"Commune","x":60.2,"d":15},
{"k":"d","p":"B","r":"Baseline (N = 31)","s":"Commune","x":84.9,"d":13.3},
{"k":"d","p":"B","r":"Baseline (N = 31)","s":"Commune","x":109.7,"d":11},
{"k":"d","p":"B","r":"Baseline (N = 31)","s":"Commune","x":129.5,"d":8.3},
{"k":"d","p":"B","r":"Baseline (N = 31)","s":"Commune","x":146.9,"d":5.7},
{"k":"d","p":"B","r":"Baseline (N = 31)","s":"Commune","x":164.2,"d":3.7},
{"k":"d","p":"B","r":"Baseline (N = 31)","s":"Commune","x":181.5,"d":1.7},
{"k":"d","p":"B","r":"Baseline (N = 31)","s":"Commune","x":190.2,"d":0},
{"k":"d","p":"B","r":"Baseline (N = 31)","s":"District","x":5.2,"d":0},
{"k":"d","p":"B","r":"Baseline (N = 31)","s":"District","x":5.3,"d":5.7},
{"k":"d","p":"B","r":"Baseline (N = 31)","s":"District","x":13.1,"d":15},
{"k":"d","p":"B","r":"Baseline (N = 31)","s":"District","x":20.6,"d":23.3},
{"k":"d","p":"B","r":"Baseline (N = 31)","s":"District","x":29.2,"d":26.7},
{"k":"d","p":"B","r":"Baseline (N = 31)","s":"District","x":37.9,"d":24.3},
{"k":"d","p":"B","r":"Baseline (N = 31)","s":"District","x":47.8,"d":19},
{"k":"d","p":"B","r":"Baseline (N = 31)","s":"District","x":60.2,"d":15},
{"k":"d","p":"B","r":"Baseline (N = 31)","s":"District","x":72.6,"d":14.3},
{"k":"d","p":"B","r":"Baseline (N = 31)","s":"District","x":80.0,"d":18.3},
{"k":"d","p":"B","r":"Baseline (N = 31)","s":"District","x":89.9,"d":21.7},
{"k":"d","p":"B","r":"Baseline (N = 31)","s":"District","x":97.3,"d":22.7},
{"k":"d","p":"B","r":"Baseline (N = 31)","s":"District","x":107.2,"d":20},
{"k":"d","p":"B","r":"Baseline (N = 31)","s":"District","x":117.1,"d":15},
{"k":"d","p":"B","r":"Baseline (N = 31)","s":"District","x":127.0,"d":9},
{"k":"d","p":"B","r":"Baseline (N = 31)","s":"District","x":139.4,"d":5.3},
{"k":"d","p":"B","r":"Baseline (N = 31)","s":"District","x":159.2,"d":2.7},
{"k":"d","p":"B","r":"Baseline (N = 31)","s":"District","x":181.5,"d":1},
{"k":"d","p":"B","r":"Baseline (N = 31)","s":"District","x":189.0,"d":0}
]},
"resolve": {"scale": {"x": "independent", "y": "independent", "fill": "shared"}},
"spacing": 41,
"hconcat": [
{
 "title": {"text": "A", "anchor": "start", "frame": "bounds", "fontSize": 26, "fontWeight": "bold", "color": "black", "dx": -4, "offset": 0},
 "data": {"name": "all"},
 "transform": [{"filter": "datum.p === 'A'"}],
 "bounds": "flush",
 "facet": {"row": {"field": "r", "type": "nominal",
   "sort": ["All addtl primary clinics (+ 1733)", "Max clinics added (+ 1229)", "+ 600", "+ 200", "1 per district (+ 83)", "Baseline (N = 31)"],
   "header": {"title": "# Additional ARMC", "titleFontSize": 29, "titleFontWeight": "normal", "titleColor": "black", "titlePadding": 4,
     "labelExpr": "datum.value === 'All addtl primary clinics (+ 1733)' ? ['All addtl primary clinics', '\u200c', '\u200c\u00a0\u00a0\u00a0\u00a0\u00a0\u00a0\u00a0\u00a0\u00a0\u00a0\u00a0\u00a0\u00a0\u00a0\u00a0\u00a0\u00a0\u00a0\u00a0\u00a0\u00a0\u00a0\u00a0(+ 1733)'] : datum.value === 'Max clinics added (+ 1229)' ? ['Max clinics added', '\u200c', '\u200c\u00a0\u00a0\u00a0\u00a0\u00a0\u00a0\u00a0\u00a0\u00a0\u00a0\u00a0\u00a0\u00a0\u00a0\u00a0(+ 1229)'] : datum.value === '1 per district (+ 83)' ? ['1 per district', '\u200c', '\u200c\u00a0\u00a0\u00a0\u00a0\u00a0\u00a0\u00a0\u00a0\u00a0\u00a0(+ 83)'] : datum.value === 'Baseline (N = 31)' ? ['Baseline', '\u200c', '\u200c\u00a0(N = 31)'] : ['\u200c', datum.value]",
     "labelAngle": 0, "labelAlign": "left", "labelBaseline": "bottom", "labelFontSize": 25, "labelColor": "black", "labelPadding": 5, "labelLineHeight": 12.5}}},
 "spacing": 0,
 "spec": {"width": 303, "height": 119.6, "layer": [
  {"transform": [{"filter": "datum.k === 'd' && datum.s === 'Commune'"}],
   "mark": {"type": "area", "fillOpacity": 0.65},
   "encoding": {
    "x": {"field": "x", "type": "quantitative", "scale": {"type": "sqrt", "domain": [-0.0536, 22.5], "nice": false, "zero": false},
      "axis": {"title": "Travel times (hrs)", "values": [0.5, 1, 3, 5, 10, 15], "format": ".1f", "labelAngle": -45, "labelAlign": "right", "labelBaseline": "top", "labelOverlap": false, "grid": false, "offset": 9, "labelPadding": 2, "titlePadding": 41}},
    "y": {"field": "d", "type": "quantitative", "title": null, "scale": {"domain": [-83.8, 35.8], "nice": false, "zero": false},
      "axis": {"values": [-24], "labels": false, "ticks": true, "domain": false, "grid": true}},
    "y2": {"datum": 0},
    "fill": {"field": "s", "type": "nominal", "scale": {"domain": ["Commune", "District"], "range": ["#0f744c", "#342245"]}, "title": "Scale",
      "legend": {"orient": "none", "legendX": 715, "legendY": 303,
        "symbolType": "M-1,-1H1V1H-1Z M-0.85,-0.45H0.85V0.45H-0.85Z M0,-1V-0.45 M0,0.45V1 M-0.85,0H0.85",
        "symbolSize": 784, "symbolStrokeWidth": 2,
        "encode": {"symbols": {"update": {"fillOpacity": {"value": 0.65}, "stroke": {"signal": "datum.value === 'Commune' ? '#127a58' : '#3b2a50'"}, "strokeOpacity": {"value": 1}, "opacity": {"value": 1}}}}}}}},
  {"transform": [{"filter": "datum.k === 'd' && datum.s === 'District'"}],
   "mark": {"type": "area", "fillOpacity": 0.65},
   "encoding": {
    "x": {"field": "x", "type": "quantitative"},
    "y": {"field": "d", "type": "quantitative", "title": null},
    "y2": {"datum": 0},
    "fill": {"field": "s", "type": "nominal", "title": "Scale"}}},
  {"transform": [{"filter": "datum.k === 'b' && datum.s === 'Commune'"}],
   "mark": {"type": "rule", "stroke": "#127a58", "strokeWidth": 2},
   "encoding": {"x": {"field": "lo", "type": "quantitative"}, "x2": {"field": "hi"}, "y": {"datum": -29}}},
  {"transform": [{"filter": "datum.k === 'b' && datum.s === 'Commune'"}],
   "mark": {"type": "rect", "fill": "#98c5b4", "stroke": "#127a58", "strokeWidth": 2},
   "encoding": {"x": {"field": "q1", "type": "quantitative"}, "x2": {"field": "q3"}, "y": {"datum": -25}, "y2": {"datum": -34}}},
  {"transform": [{"filter": "datum.k === 'b' && datum.s === 'Commune'"}],
   "mark": {"type": "rule", "stroke": "#127a58", "strokeWidth": 3},
   "encoding": {"x": {"field": "med", "type": "quantitative"}, "y": {"datum": -25}, "y2": {"datum": -34}}},
  {"transform": [{"filter": "datum.k === 'b' && datum.s === 'District'"}],
   "mark": {"type": "rule", "stroke": "#3b2a50", "strokeWidth": 2},
   "encoding": {"x": {"field": "lo", "type": "quantitative"}, "x2": {"field": "hi"}, "y": {"datum": -20}}},
  {"transform": [{"filter": "datum.k === 'b' && datum.s === 'District'"}],
   "mark": {"type": "rect", "fill": "#a9a1b1", "stroke": "#3b2a50", "strokeWidth": 2},
   "encoding": {"x": {"field": "q1", "type": "quantitative"}, "x2": {"field": "q3"}, "y": {"datum": -15.7}, "y2": {"datum": -24}}},
  {"transform": [{"filter": "datum.k === 'b' && datum.s === 'District'"}],
   "mark": {"type": "rule", "stroke": "#3b2a50", "strokeWidth": 3},
   "encoding": {"x": {"field": "med", "type": "quantitative"}, "y": {"datum": -15.7}, "y2": {"datum": -24}}}
 ]}
},
{
 "title": {"text": "B", "anchor": "start", "frame": "bounds", "fontSize": 26, "fontWeight": "bold", "color": "black", "dx": -33, "offset": 0},
 "data": {"name": "all"},
 "transform": [{"filter": "datum.p === 'B'"}],
 "bounds": "flush",
 "facet": {"row": {"field": "r", "type": "nominal",
   "sort": ["All addtl primary clinics (+ 1733)", "Max clinics added (+ 1229)", "+ 600", "+ 200", "1 per district (+ 83)", "Baseline (N = 31)"],
   "header": {"labels": false, "title": null}}},
 "spacing": 0,
 "spec": {"width": 305, "height": 119.6, "layer": [
  {"transform": [{"filter": "datum.k === 'd' && datum.s === 'Commune'"}],
   "mark": {"type": "area", "fillOpacity": 0.65},
   "encoding": {
    "x": {"field": "x", "type": "quantitative", "scale": {"domain": [-10.4, 216.2], "nice": false, "zero": false},
      "axis": {"title": ["Reported bites", "per 100k"], "values": [0, 50, 100, 150, 200], "format": "d", "labelAngle": -45, "labelAlign": "right", "labelBaseline": "top", "labelOverlap": false, "grid": false, "offset": 9, "labelPadding": 2, "titlePadding": 30}},
    "y": {"field": "d", "type": "quantitative", "title": null, "scale": {"domain": [-83.8, 35.8], "nice": false, "zero": false},
      "axis": {"values": [-24], "labels": false, "ticks": true, "domain": false, "grid": true}},
    "y2": {"datum": 0},
    "fill": {"field": "s", "type": "nominal", "title": "Scale"}}},
  {"transform": [{"filter": "datum.k === 'd' && datum.s === 'District'"}],
   "mark": {"type": "area", "fillOpacity": 0.65},
   "encoding": {
    "x": {"field": "x", "type": "quantitative"},
    "y": {"field": "d", "type": "quantitative", "title": null},
    "y2": {"datum": 0},
    "fill": {"field": "s", "type": "nominal", "title": "Scale"}}},
  {"transform": [{"filter": "datum.k === 'b' && datum.s === 'Commune'"}],
   "mark": {"type": "rule", "stroke": "#127a58", "strokeWidth": 2},
   "encoding": {"x": {"field": "lo", "type": "quantitative"}, "x2": {"field": "hi"}, "y": {"datum": -29}}},
  {"transform": [{"filter": "datum.k === 'b' && datum.s === 'Commune'"}],
   "mark": {"type": "rect", "fill": "#98c5b4", "stroke": "#127a58", "strokeWidth": 2},
   "encoding": {"x": {"field": "q1", "type": "quantitative"}, "x2": {"field": "q3"}, "y": {"datum": -25}, "y2": {"datum": -34}}},
  {"transform": [{"filter": "datum.k === 'b' && datum.s === 'Commune'"}],
   "mark": {"type": "rule", "stroke": "#127a58", "strokeWidth": 3},
   "encoding": {"x": {"field": "med", "type": "quantitative"}, "y": {"datum": -25}, "y2": {"datum": -34}}},
  {"transform": [{"filter": "datum.k === 'b' && datum.s === 'District'"}],
   "mark": {"type": "rule", "stroke": "#3b2a50", "strokeWidth": 2},
   "encoding": {"x": {"field": "lo", "type": "quantitative"}, "x2": {"field": "hi"}, "y": {"datum": -20}}},
  {"transform": [{"filter": "datum.k === 'b' && datum.s === 'District'"}],
   "mark": {"type": "rect", "fill": "#a9a1b1", "stroke": "#3b2a50", "strokeWidth": 2},
   "encoding": {"x": {"field": "q1", "type": "quantitative"}, "x2": {"field": "q3"}, "y": {"datum": -15.7}, "y2": {"datum": -24}}},
  {"transform": [{"filter": "datum.k === 'b' && datum.s === 'District'"}],
   "mark": {"type": "rule", "stroke": "#3b2a50", "strokeWidth": 3},
   "encoding": {"x": {"field": "med", "type": "quantitative"}, "y": {"datum": -15.7}, "y2": {"datum": -24}}}
 ]}
}
],
"config": {
 "font": "Liberation Sans",
 "view": {"stroke": null},
 "axis": {"labelFont": "Liberation Sans", "titleFont": "Liberation Sans", "labelFontSize": 21, "titleFontSize": 29, "titleFontWeight": "normal", "labelColor": "#1a1a1a", "titleColor": "black",
   "domainColor": "#8c8c8c", "domainWidth": 2, "tickColor": "#8c8c8c", "tickWidth": 1.5, "tickSize": 6, "gridColor": "#8c8c8c", "gridWidth": 1.5, "gridOpacity": 1},
 "header": {"labelFont": "Liberation Sans", "titleFont": "Liberation Sans"},
 "legend": {"titleFontSize": 28, "titleFontWeight": "normal", "titleColor": "black", "titleFont": "Liberation Sans", "titlePadding": 14,
   "labelFontSize": 25, "labelColor": "black", "labelFont": "Liberation Sans", "labelOffset": 18, "rowPadding": -7}
}
}
